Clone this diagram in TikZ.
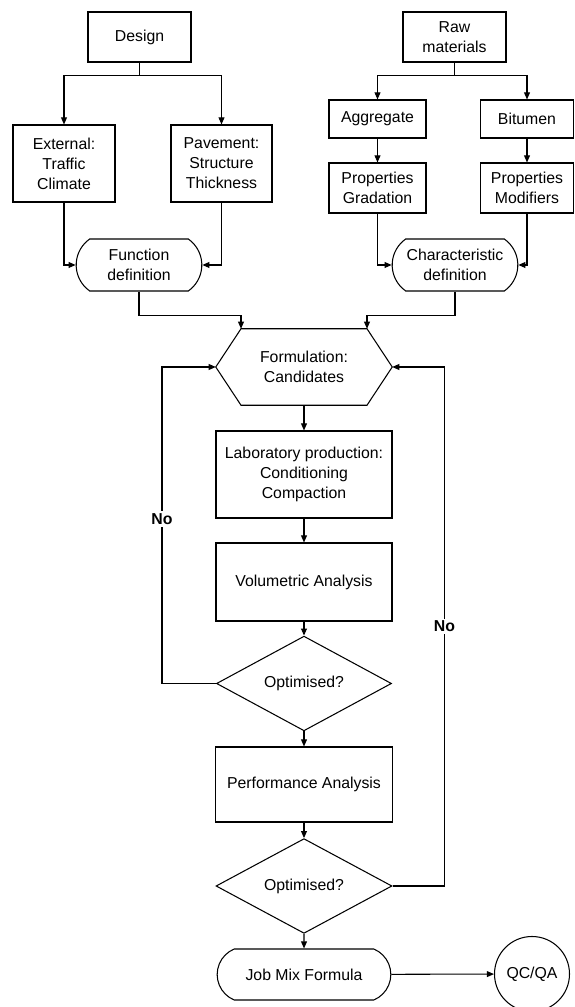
\documentclass[tikz,border=0pt]{standalone}
\usepackage{fontspec}
\setmainfont{Liberation Sans}
\usetikzlibrary{arrows.meta,shapes.geometric,shapes.misc,calc}

\tikzset{
  box/.style={draw, line width=0.9pt, align=center, inner sep=1pt},
  term/.style={box, rounded rectangle, rounded rectangle arc length=110},
  decide/.style={box, diamond, inner sep=0pt},
  flow/.style={line width=0.9pt, -{Triangle[length=6pt,width=5pt]}},
  nolabel/.style={fill=white, inner sep=2pt, font=\fontsize{13.5}{17}\selectfont\bfseries}
}

\begin{document}
\begin{tikzpicture}[font=\fontsize{13.5}{17}\selectfont]
                            \useasboundingbox (0,0) rectangle (17.220000,30.210000);

                            % Drawing box Design
                            \node (design) at (4.185000,29.100000) [box, minimum width=3.090000cm, minimum height=1.500000cm] {Design};%

                            % Drawing box Raw materials
                            \node (raw) at (13.635000,29.100000) [box, minimum width=3.090000cm, minimum height=1.500000cm] {Raw\\materials};%

                            % Drawing boxes External and Pavement
                            \node (external) at (1.920000,25.305000) [box, minimum width=3.060000cm, minimum height=2.310000cm] {External:\\Traffic\\Climate};%
                            \node (pavement) at (6.645000,25.305000) [box, minimum width=3.030000cm, minimum height=2.310000cm] {Pavement:\\Structure\\Thickness};%

                            % Drawing boxes Aggregate and Bitumen
                            \node (aggregate) at (11.325000,26.640000) [box, minimum width=2.910000cm, minimum height=1.140000cm] {Aggregate};%
                            \node (bitumen) at (15.810000,26.640000) [box, minimum width=2.790000cm, minimum height=1.140000cm] {Bitumen};%

                            % Drawing boxes Properties
                            \node (gradation) at (11.325000,24.570000) [box, minimum width=2.910000cm, minimum height=1.500000cm] {Properties\\Gradation};%
                            \node (modifiers) at (15.810000,24.570000) [box, minimum width=2.790000cm, minimum height=1.500000cm] {Properties\\Modifiers};%

                            % Drawing terminals Function and Characteristic
                            \node (function) at (4.170000,22.260000) [term, minimum width=3.840000cm, minimum height=1.560000cm] {Function\\definition};%
                            \node (character) at (13.650000,22.260000) [term, minimum width=3.840000cm, minimum height=1.560000cm] {Characteristic\\definition};%

                            % Drawing hexagon Formulation
                            \node (formulation) at (9.120000,19.200000) [align=center, inner sep=0pt, minimum width=5.280000cm, minimum height=2.280000cm] {Formulation:\\Candidates};%
                            \draw [line width=0.9pt] (formulation.west) -- ($(formulation.north)+(-1.890000,0)$) -- ($(formulation.north)+(1.890000,0)$) -- (formulation.east) -- ($(formulation.south)+(1.890000,0)$) -- ($(formulation.south)+(-1.890000,0)$) -- cycle;%
                            \coordinate (fleft) at ($(formulation.north)+(-1.890000,0)$);%
                            \coordinate (fright) at ($(formulation.north)+(1.890000,0)$);%

                            % Drawing boxes Laboratory and Volumetric
                            \node (lab) at (9.120000,15.975000) [box, minimum width=5.280000cm, minimum height=2.610000cm] {Laboratory production:\\Conditioning\\Compaction};%
                            \node (volumetric) at (9.120000,12.750000) [box, minimum width=5.280000cm, minimum height=2.340000cm] {Volumetric Analysis};%

                            % Drawing decision Optimised 1
                            \node (opt1) at (9.120000,9.705000) [decide, minimum width=5.250000cm, minimum height=2.190000cm] {Optimised?};%

                            % Drawing box Performance
                            \node (performance) at (9.120000,6.675000) [box, minimum width=5.310000cm, minimum height=2.250000cm] {Performance Analysis};%

                            % Drawing decision Optimised 2
                            \node (opt2) at (9.120000,3.630000) [decide, minimum width=5.280000cm, minimum height=2.280000cm] {Optimised?};%

                            % Drawing terminal Job Mix Formula
                            \node (jmf) at (9.120000,0.975000) [box, rounded rectangle, rounded rectangle arc length=135, minimum width=5.280000cm, minimum height=1.530000cm] {Job Mix Formula};%

                            % Drawing circle QC/QA
                            \node (qcqa) at (15.960000,0.990000) [box, circle, minimum size=2.250000cm] {QC/QA};%

                            % Drawing connectors of the design branch
                            \draw [flow] (design.south) -- ++(0,-0.390000) -| (external.north);%
                            \draw [flow] (design.south) -- ++(0,-0.390000) -| (pavement.north);%
                            \draw [flow] (external.south) |- (function.west);%
                            \draw [flow] (pavement.south) |- (function.east);%

                            % Drawing connectors of the materials branch
                            \draw [flow] (raw.south) -- ++(0,-0.390000) -| (aggregate.north);%
                            \draw [flow] (raw.south) -- ++(0,-0.390000) -| (bitumen.north);%
                            \draw [flow] (aggregate) -- (gradation);%
                            \draw [flow] (bitumen) -- (modifiers);%
                            \draw [flow] (gradation.south) |- (character.west);%
                            \draw [flow] (modifiers.south) |- (character.east);%

                            % Drawing connectors into Formulation
                            \draw [flow] (function.south) |- ($(fleft)+(0,0.390000)$) -- (fleft);%
                            \draw [flow] (character.south) |- ($(fright)+(0,0.390000)$) -- (fright);%

                            % Drawing main flow
                            \draw [flow] (formulation) -- (lab);%
                            \draw [flow] (lab) -- (volumetric);%
                            \draw [flow] (volumetric) -- (opt1);%
                            \draw [flow] (opt1) -- (performance);%
                            \draw [flow] (performance) -- (opt2);%
                            \draw [flow] (opt2) -- (jmf);%
                            \draw [flow] (jmf) -- (qcqa);%

                            % Drawing loops No
                            \draw [flow] (opt1.west) -- ++(-1.620000,0) |- (formulation.west) node [nolabel, pos=0.26] {No};%
                            \draw [flow] (opt2.east) -- ++(1.560000,0) |- (formulation.east) node [nolabel, pos=0.25] {No};%
\end{tikzpicture}
\end{document}
